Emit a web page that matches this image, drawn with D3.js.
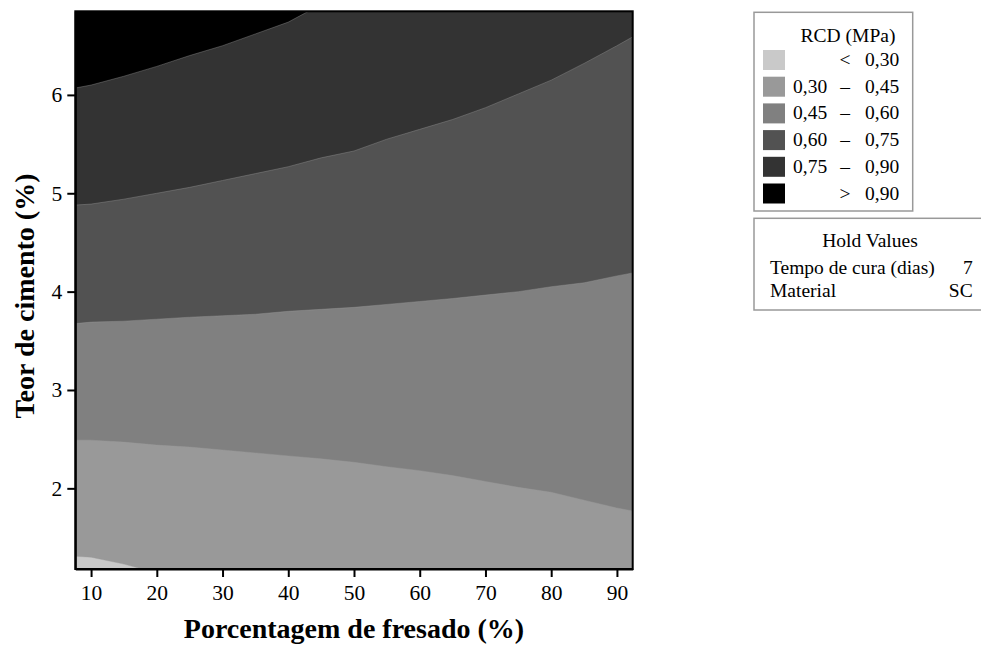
<!DOCTYPE html>
<html>
<head>
<meta charset="utf-8">
<script src="https://cdn.jsdelivr.net/npm/d3@7"></script>
<style>
  body { margin: 0; background: #fff; }
  svg { display: block; font-family: "Liberation Serif", "Times New Roman", serif; }
</style>
</head>
<body>
<svg id="chart" width="981" height="646"></svg>
<script>
//DATA - x positions (Porcentagem de fresado) and the contour limits (Teor de cimento)
const fresado   = [7.6, 10, 15, 20, 25, 30, 35, 40, 45, 50, 55, 60, 65, 70, 75, 80, 85, 90, 92.4];
const limite030 = [1.31, 1.30, 1.23, 1.14, 1.0, 1.0, 1.0, 1.0, 1.0, 1.0, 1.0, 1.0, 1.0, 1.0, 1.0, 1.0, 1.0, 1.0, 1.0];
const limite045 = [2.49, 2.49, 2.47, 2.44, 2.42, 2.39, 2.36, 2.33, 2.30, 2.265, 2.22, 2.18, 2.13, 2.07, 2.01, 1.96, 1.88, 1.80, 1.77];
const limite060 = [3.675, 3.69, 3.70, 3.72, 3.74, 3.755, 3.77, 3.80, 3.82, 3.84, 3.87, 3.90, 3.93, 3.965, 4.0, 4.05, 4.09, 4.16, 4.19];
const limite075 = [4.88, 4.89, 4.94, 5.0, 5.06, 5.13, 5.2, 5.27, 5.36, 5.43, 5.55, 5.65, 5.75, 5.87, 6.01, 6.15, 6.32, 6.5, 6.59];
const limite090 = [6.07, 6.1, 6.19, 6.29, 6.4, 6.5, 6.62, 6.74, 6.92, 7.1, 7.2, 7.3, 7.4, 7.5, 7.6, 7.7, 7.8, 7.9, 8.0];

const xTicks = [10, 20, 30, 40, 50, 60, 70, 80, 90];
const yTicks = [2, 3, 4, 5, 6];

//LEGEND
const legendLow  = ["", "0,30", "0,45", "0,60", "0,75", ""];
const legendSign = ["<", "–", "–", "–", "–", ">"];
const legendHigh = ["0,30", "0,45", "0,60", "0,75", "0,90", "0,90"];
const colors     = ["#c9c9c9", "#999999", "#808080", "#525252", "#333333", "#000000"];

const holdNames  = ["Tempo de cura (dias)", "Material"];
const holdValues = ["7", "SC"];

//LAYOUT
const plot = {left: 75.3, right: 632.7, top: 11.3, bottom: 569};
const svg = d3.select("#chart");

const x = d3.scaleLinear().domain([7.6, 92.4]).range([plot.left, plot.right]);
const y = d3.scaleLinear().domain([1.18, 6.85]).range([plot.bottom, plot.top]);

svg.append("clipPath").attr("id", "clip")
    .append("rect")
    .attr("x", plot.left).attr("y", plot.top)
    .attr("width", plot.right - plot.left).attr("height", plot.bottom - plot.top);

const g = svg.append("g").attr("clip-path", "url(#clip)");

//BACKGROUND = highest class, then paint each lower class from the bottom up to its limit
g.append("rect")
    .attr("x", plot.left).attr("y", plot.top)
    .attr("width", plot.right - plot.left).attr("height", plot.bottom - plot.top)
    .attr("fill", colors[5]);

const limits = [limite090, limite075, limite060, limite045, limite030];
const bandColors = [colors[4], colors[3], colors[2], colors[1], colors[0]];

limits.forEach((lim, i) => {
    const area = d3.area()
        .x((d, j) => x(fresado[j]))
        .y0(plot.bottom + 5)
        .y1((d, j) => y(lim[j]));
    g.append("path").datum(lim)
        .attr("d", area)
        .attr("fill", bandColors[i]);
    const line = d3.line()
        .x((d, j) => x(fresado[j]))
        .y((d, j) => y(lim[j]));
    g.append("path").datum(lim)
        .attr("d", line)
        .attr("fill", "none")
        .attr("stroke", "#9a9a9a")
        .attr("stroke-opacity", 0.55)
        .attr("stroke-width", 0.7);
});

//FRAME
svg.append("rect")
    .attr("x", plot.left).attr("y", plot.top)
    .attr("width", plot.right - plot.left).attr("height", plot.bottom - plot.top)
    .attr("fill", "none").attr("stroke", "#000").attr("stroke-width", 2);

//AXES
const xAxis = svg.append("g")
    .attr("transform", "translate(0," + plot.bottom + ")")
    .call(d3.axisBottom(x).tickValues(xTicks).tickFormat(d3.format("d"))
        .tickSize(8).tickPadding(8).tickSizeOuter(0));
const yAxis = svg.append("g")
    .attr("transform", "translate(" + plot.left + ",0)")
    .call(d3.axisLeft(y).tickValues(yTicks).tickFormat(d3.format("d"))
        .tickSize(8).tickPadding(5).tickSizeOuter(0));

[xAxis, yAxis].forEach(a => {
    a.select(".domain").attr("stroke-width", 2);
    a.selectAll(".tick line").attr("stroke-width", 2);
    a.selectAll(".tick text")
        .attr("font-family", "Liberation Serif, serif")
        .attr("font-size", 21.5)
        .attr("fill", "#000");
});

//AXIS TITLES
svg.append("text")
    .attr("x", (plot.left + plot.right) / 2).attr("y", 638)
    .attr("text-anchor", "middle")
    .attr("font-weight", "bold").attr("font-size", 28)
    .text("Porcentagem de fresado (%)");

svg.append("text")
    .attr("transform", "translate(34,296) rotate(-90)")
    .attr("text-anchor", "middle")
    .attr("font-weight", "bold").attr("font-size", 28)
    .text("Teor de cimento (%)");

//LEGEND BOX
const leg = svg.append("g");
leg.append("rect")
    .attr("x", 754).attr("y", 12.3).attr("width", 158.7).attr("height", 198.7)
    .attr("fill", "#fff").attr("stroke", "#999").attr("stroke-width", 1.5);
leg.append("text")
    .attr("x", 848).attr("y", 41.5)
    .attr("text-anchor", "middle").attr("font-size", 19.5)
    .text("RCD (MPa)");

const rows = leg.selectAll(".row").data(colors)
    .enter().append("g")
    .attr("class", "row")
    .attr("transform", (d, i) => "translate(0," + (50 + i * 26.7) + ")");
rows.append("rect")
    .attr("x", 763).attr("y", 0).attr("width", 22).attr("height", 20)
    .attr("fill", d => d);
rows.append("text")
    .attr("x", 793).attr("y", 16).attr("font-size", 19.5)
    .text((d, i) => legendLow[i]);
rows.append("text")
    .attr("x", 845).attr("y", 16).attr("font-size", 19.5).attr("text-anchor", "middle")
    .text((d, i) => legendSign[i]);
rows.append("text")
    .attr("x", 865).attr("y", 16).attr("font-size", 19.5)
    .text((d, i) => legendHigh[i]);

//HOLD VALUES BOX
const hold = svg.append("g");
hold.append("rect")
    .attr("x", 754).attr("y", 218.3).attr("width", 240).attr("height", 91.7)
    .attr("fill", "#fff").attr("stroke", "#999").attr("stroke-width", 1.5);
hold.append("text")
    .attr("x", 870).attr("y", 246.5)
    .attr("text-anchor", "middle").attr("font-size", 19.5)
    .text("Hold Values");
holdNames.forEach((name, i) => {
    hold.append("text")
        .attr("x", 770).attr("y", 273.5 + i * 23.3).attr("font-size", 19.5)
        .text(name);
    hold.append("text")
        .attr("x", 972.7).attr("y", 273.5 + i * 23.3).attr("font-size", 19.5)
        .attr("text-anchor", "end")
        .text(holdValues[i]);
});
</script>
</body>
</html>
